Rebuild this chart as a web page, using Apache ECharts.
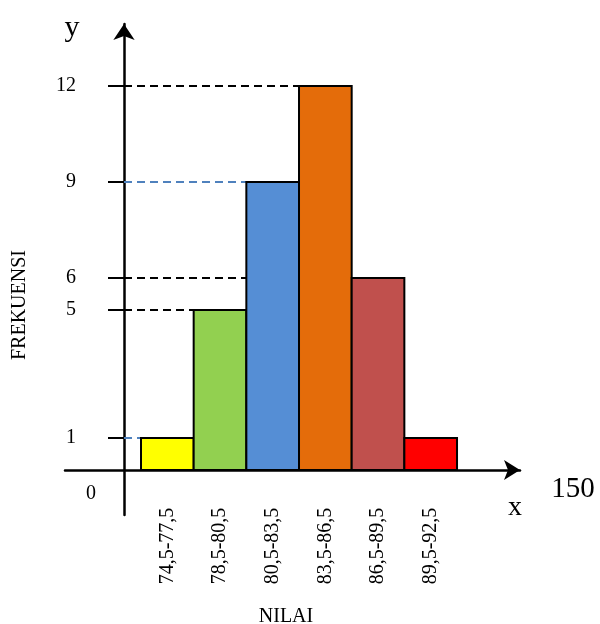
<!DOCTYPE html>
<html><head><meta charset="utf-8">
<script src="https://cdn.jsdelivr.net/npm/echarts@6/dist/echarts.min.js"></script>
<style>html,body{margin:0;padding:0;background:#fff}#c{width:600px;height:624px}</style>
</head><body><div id="c"></div>
<script>
// ---- data ----
const categories = ['74,5-77,5','78,5-80,5','80,5-83,5','83,5-86,5','86,5-89,5','89,5-92,5'];
const frequencies = [1, 5, 9, 12, 6, 1];
const yTickValues = [1, 5, 6, 9, 12];

// ---- styles ----
const barColors = ['#FFFF00','#92D050','#558ED5','#E46C0A','#C0504D','#FF0000'];
const guideColors = ['#4F81BD','#000000','#4F81BD','#000000','#000000', null];
const FONT = '"Liberation Serif", "Times New Roman", serif';

// ---- layout (pixels) ----
const GRID_LEFT = 65, GRID_RIGHT_PX = 520, ORIGIN_X = 124, BIN_PX = 52.67, BAR0_X = 141;
const GRID_TOP = 24, GRID_BOTTOM_PX = 515, ORIGIN_Y = 470, UNIT_Y = 32;

const xMin = -(ORIGIN_X - GRID_LEFT) / BIN_PX;
const xMax = (GRID_RIGHT_PX - ORIGIN_X) / BIN_PX;
const binOffset = (BAR0_X - ORIGIN_X) / BIN_PX;
const yMin = -(GRID_BOTTOM_PX - ORIGIN_Y) / UNIT_Y;
const yMax = (ORIGIN_Y - GRID_TOP) / UNIT_Y;

const seriesData = frequencies.map((v, i) => [i, v]);

function renderItem(params, api) {
  const i = api.value(0), v = api.value(1);
  const tl = api.coord([i + binOffset, v]);
  const br = api.coord([i + binOffset + 1, 0]);
  const axisPt = api.coord([0, v]);
  const children = [];
  if (guideColors[i]) {
    children.push({type: 'line', z2: 1,
      shape: {x1: axisPt[0], y1: tl[1], x2: tl[0], y2: tl[1]},
      style: {stroke: guideColors[i], lineWidth: 2, lineDash: [8, 5]}});
  }
  children.push({type: 'rect', z2: 2,
    shape: {x: tl[0], y: tl[1], width: br[0] - tl[0], height: br[1] - tl[1]},
    style: {fill: barColors[i], stroke: '#000', lineWidth: 2}});
  children.push({type: 'text', z2: 3,
    x: (tl[0] + br[0]) / 2, y: br[1] + 76, rotation: Math.PI / 2,
    style: {text: categories[i], font: '20px ' + FONT, fill: '#000', align: 'center', verticalAlign: 'middle'}});
  return {type: 'group', children};
}

const chart = echarts.init(document.getElementById('c'), null, {renderer: 'canvas'});
chart.setOption({
  animation: false,
  backgroundColor: '#fff',
  grid: {left: GRID_LEFT, right: 600 - GRID_RIGHT_PX, top: GRID_TOP, bottom: 624 - GRID_BOTTOM_PX,
         containLabel: false, outerBoundsMode: 'none'},
  xAxis: {
    type: 'value', min: xMin, max: xMax,
    splitLine: {show: false},
    axisTick: {show: false},
    axisLabel: {show: false},
    axisLine: {show: true, onZero: true, symbol: ['none', 'arrow'], symbolSize: [15, 16],
      lineStyle: {color: '#000', width: 2.5}}
  },
  yAxis: {
    type: 'value', min: yMin, max: yMax,
    splitLine: {show: false},
    axisLine: {show: true, onZero: true, symbol: ['none', 'arrow'], symbolSize: [16, 16],
      lineStyle: {color: '#000', width: 2.5}},
    axisTick: {show: true, customValues: yTickValues, length: 16, lineStyle: {color: '#000', width: 2}},
    axisLabel: {customValues: yTickValues, margin: -11, color: '#000', fontFamily: FONT, fontSize: 20}
  },
  series: [{
    type: 'custom', renderItem: renderItem, data: seriesData, clip: false,
    encode: {x: 0, y: 1}
  }],
  graphic: [
    {type: 'text', x: 72, y: 28, style: {text: 'y', font: '30px ' + FONT, fill: '#000', align: 'center', verticalAlign: 'middle'}},
    {type: 'text', x: 515, y: 508, style: {text: 'x', font: '28px ' + FONT, fill: '#000', align: 'center', verticalAlign: 'middle'}},
    {type: 'text', x: 573, y: 489, style: {text: '150', font: '29px ' + FONT, fill: '#000', align: 'center', verticalAlign: 'middle'}},
    {type: 'text', x: 91, y: 494, style: {text: '0', font: '20px ' + FONT, fill: '#000', align: 'center', verticalAlign: 'middle'}},
    {type: 'text', x: 20, y: 305, rotation: Math.PI / 2, style: {text: 'FREKUENSI', font: '20px ' + FONT, fill: '#000', align: 'center', verticalAlign: 'middle'}},
    {type: 'text', x: 286, y: 617, style: {text: 'NILAI', font: '20px ' + FONT, fill: '#000', align: 'center', verticalAlign: 'middle'}}
  ]
});
</script>
</body></html>
